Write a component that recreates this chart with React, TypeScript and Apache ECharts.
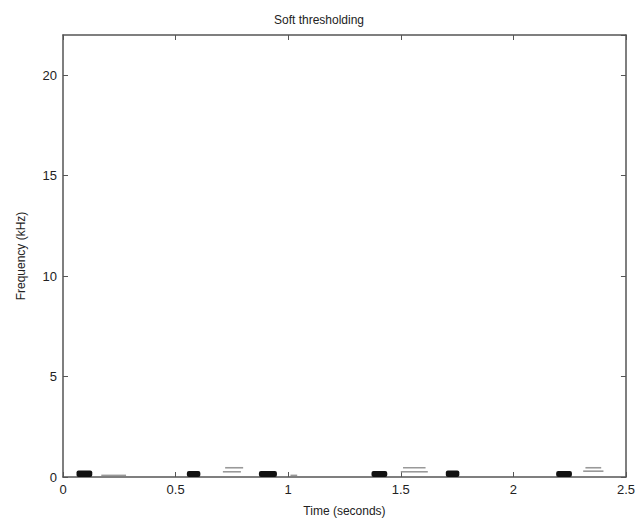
import React, { useEffect, useRef } from "react";
import * as echarts from "echarts";

// Strong (black) energy patches: time start/end (s), freq top (kHz)
const blobStart = [0.06, 0.55, 0.87, 1.37, 1.70, 2.19];
const blobEnd = [0.13, 0.61, 0.95, 1.44, 1.76, 2.26];
const blobTop = [0.32, 0.3, 0.3, 0.3, 0.32, 0.3];

// Faint residual patches: time start/end (s), freq low/high (kHz)
const faintStart = [0.17, 0.71, 0.72, 1.01, 1.50, 1.51, 2.31, 2.32];
const faintEnd = [0.28, 0.79, 0.80, 1.04, 1.62, 1.61, 2.40, 2.39];
const faintLow = [0.05, 0.22, 0.42, 0.05, 0.22, 0.42, 0.25, 0.42];
const faintHigh = [0.12, 0.3, 0.5, 0.12, 0.3, 0.5, 0.33, 0.5];

const xTicks = [0, 0.5, 1, 1.5, 2, 2.5];
const yTicks = [0, 5, 10, 15, 20];

export default function App() {
  const ref = useRef<HTMLDivElement>(null);
  useEffect(() => {
    if (!ref.current) return;
    const chart = echarts.init(ref.current, null, { renderer: "svg" });
    const data: any[] = [];
    blobStart.forEach((s, i) => data.push([s, blobEnd[i], 0, blobTop[i], 1]));
    faintStart.forEach((s, i) => data.push([s, faintEnd[i], faintLow[i], faintHigh[i], 0]));
    const font = "Liberation Sans, Arial, sans-serif";
    const lineColor = "#555";
    const baseAxis = {
      axisLine: { show: true, onZero: false, lineStyle: { color: lineColor, width: 1.5 } },
      axisTick: { show: true, inside: true, length: 5, lineStyle: { color: lineColor } },
      splitLine: { show: false },
    };
    chart.setOption({
      animation: false,
      backgroundColor: "#fff",
      title: {
        text: "Soft thresholding",
        left: "center",
        top: 9,
        textStyle: { fontFamily: font, fontSize: 12, fontWeight: "normal", color: "#222" },
      },
      grid: { left: 63, right: 11, top: 35, bottom: 54 },
      xAxis: [
        {
          ...baseAxis,
          type: "value",
          min: xTicks[0],
          max: xTicks[xTicks.length - 1],
          interval: 0.5,
          name: "Time (seconds)",
          nameLocation: "middle",
          nameGap: 28,
          nameTextStyle: { fontFamily: font, fontSize: 12, color: "#222" },
          axisLabel: { fontFamily: font, fontSize: 13, color: "#222", margin: 6 },
        },
        {
          ...baseAxis,
          type: "value",
          position: "top",
          min: xTicks[0],
          max: xTicks[xTicks.length - 1],
          interval: 0.5,
          axisLabel: { show: false },
        },
      ],
      yAxis: [
        {
          ...baseAxis,
          type: "value",
          min: yTicks[0],
          max: 22,
          interval: 5,
          name: "Frequency (kHz)",
          nameLocation: "middle",
          nameGap: 36,
          nameTextStyle: { fontFamily: font, fontSize: 12, color: "#222" },
          axisLabel: { fontFamily: font, fontSize: 13, color: "#222", margin: 6, showMaxLabel: false },
        },
        {
          ...baseAxis,
          type: "value",
          position: "right",
          min: yTicks[0],
          max: 22,
          interval: 5,
          axisLabel: { show: false },
        },
      ],
      series: [
        {
          type: "custom",
          xAxisIndex: 0,
          yAxisIndex: 0,
          data,
          renderItem: (params: any, api: any) => {
            const p0 = api.coord([api.value(0), api.value(3)]);
            const p1 = api.coord([api.value(1), api.value(2)]);
            const strong = api.value(4) === 1;
            return {
              type: "rect",
              shape: {
                x: p0[0],
                y: p0[1],
                width: p1[0] - p0[0],
                height: Math.max(1, p1[1] - p0[1]),
                r: strong ? 2 : 0,
              },
              style: { fill: strong ? "#111" : "#999" },
            };
          },
        },
      ],
    });
    return () => chart.dispose();
  }, []);
  return <div ref={ref} style={{ width: 638, height: 531, position: "absolute", left: 0, top: 0 }} />;
}
